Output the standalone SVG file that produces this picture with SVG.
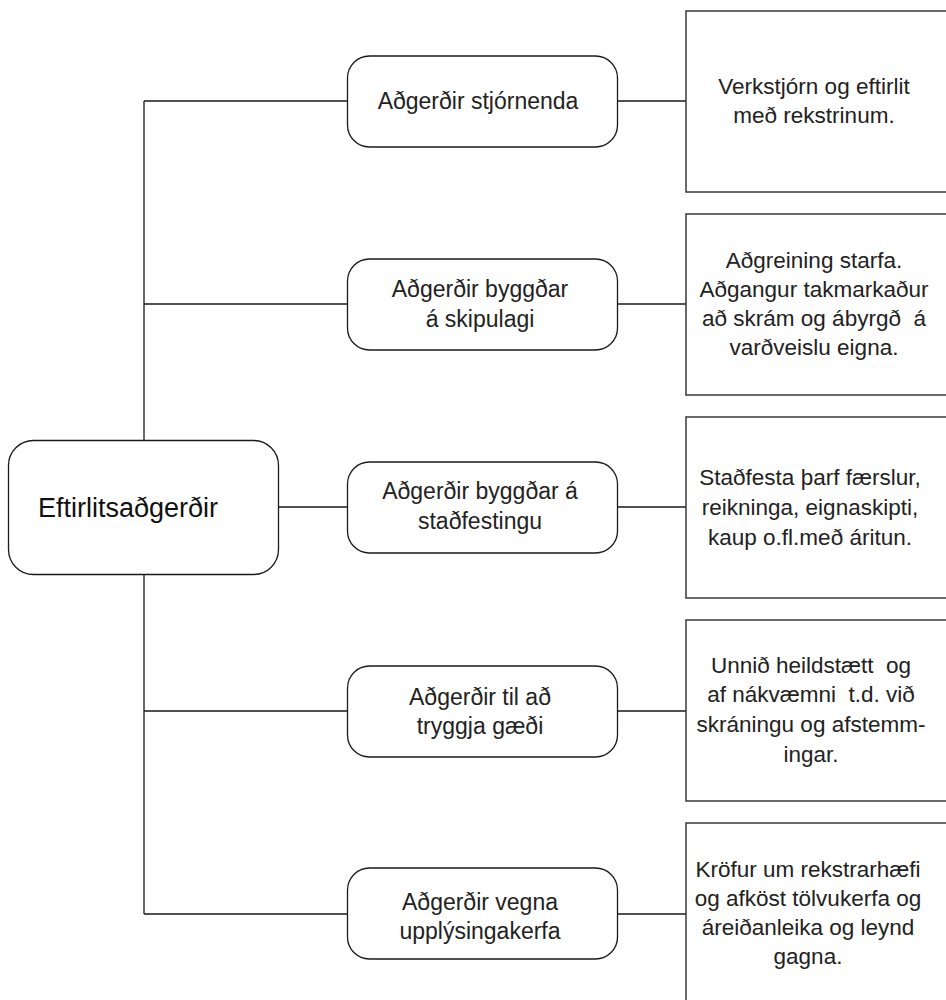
<svg xmlns="http://www.w3.org/2000/svg" width="946" height="1000" viewBox="0 0 946 1000">
<style>
.bg{fill:#ffffff}
.rnode{fill:#ffffff;stroke:#1a1a1a;stroke-width:1.3}
.box{fill:#ffffff;stroke:#3a3a3a;stroke-width:1.5}
.conn{fill:none;stroke:#1a1a1a;stroke-width:1.3}
text{font-family:"Liberation Sans",Arial,sans-serif;fill:#222222;text-anchor:middle;white-space:pre}
.t{font-size:23px}
.b{font-size:22.5px}
.main{font-size:27px;text-anchor:start;fill:#111111}
</style>
<rect class="bg" x="0" y="0" width="946" height="1000"/>
<g id="connectors">
<path class="conn" d="M144 101 V440 M144 575 V914"/>
<path class="conn" d="M144 101 H347 M144 304 H347 M279 507 H347 M144 711 H347 M144 914 H347"/>
<path class="conn" d="M618 101 H686 M618 304 H686 M618 507 H686 M618 711 H686 M618 914 H686"/>
</g>
<g id="root">
<rect class="rnode" x="8.5" y="440.5" width="270" height="134" rx="25"/>
<text class="main" x="38" y="517">Eftirlitsaðgerðir</text>
</g>
<g id="n1">
<rect class="rnode" x="347.5" y="56" width="270" height="91" rx="22"/>
<text class="t" x="478" y="109">Aðgerðir stjórnenda</text>
</g>
<g id="n2">
<rect class="rnode" x="347.5" y="259" width="270" height="91" rx="22"/>
<text class="t" x="480" y="297">Aðgerðir byggðar</text>
<text class="t" x="480" y="327">á skipulagi</text>
</g>
<g id="n3">
<rect class="rnode" x="347.5" y="462" width="270" height="91" rx="22"/>
<text class="t" x="480" y="499">Aðgerðir byggðar á</text>
<text class="t" x="480" y="529">staðfestingu</text>
</g>
<g id="n4">
<rect class="rnode" x="347.5" y="666" width="270" height="91" rx="22"/>
<text class="t" x="480" y="705">Aðgerðir til að</text>
<text class="t" x="480" y="734">tryggja gæði</text>
</g>
<g id="n5">
<rect class="rnode" x="347.5" y="868" width="270" height="91" rx="22"/>
<text class="t" x="480" y="910">Aðgerðir vegna</text>
<text class="t" x="480" y="939">upplýsingakerfa</text>
</g>
<g id="b1">
<rect class="box" x="686" y="11" width="280" height="181"/>
<text class="b" x="814" y="94">Verkstjórn og eftirlit</text>
<text class="b" x="814" y="123">með rekstrinum.</text>
</g>
<g id="b2">
<rect class="box" x="686" y="214" width="280" height="181"/>
<text class="b" x="814" y="268">Aðgreining starfa.</text>
<text class="b" x="814" y="297">Aðgangur takmarkaður</text>
<text class="b" x="814" y="326">að skrám og ábyrgð  á</text>
<text class="b" x="814" y="355">varðveislu eigna.</text>
</g>
<g id="b3">
<rect class="box" x="686" y="417" width="280" height="181"/>
<text class="b" x="810" y="485">Staðfesta þarf færslur,</text>
<text class="b" x="810" y="515">reikninga, eignaskipti,</text>
<text class="b" x="810" y="545">kaup o.fl.með áritun.</text>
</g>
<g id="b4">
<rect class="box" x="686" y="620" width="280" height="181"/>
<text class="b" x="811" y="673">Unnið heildstætt  og</text>
<text class="b" x="811" y="702">af nákvæmni  t.d. við</text>
<text class="b" x="811" y="732">skráningu og afstemm-</text>
<text class="b" x="811" y="762">ingar.</text>
</g>
<g id="b5">
<rect class="box" x="686" y="823" width="280" height="200"/>
<text class="b" x="808" y="877">Kröfur um rekstrarhæfi</text>
<text class="b" x="808" y="906">og afköst tölvukerfa og</text>
<text class="b" x="808" y="935">áreiðanleika og leynd</text>
<text class="b" x="808" y="964">gagna.</text>
</g>
</svg>
